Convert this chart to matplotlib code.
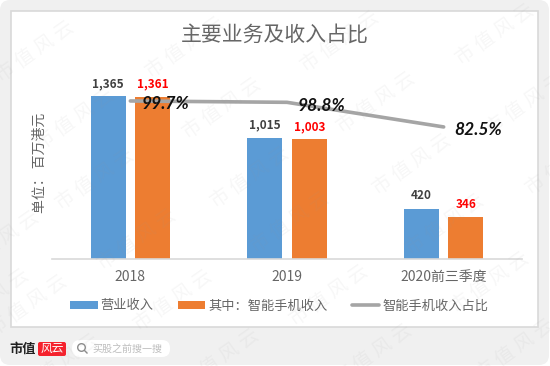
import numpy as np
import matplotlib
matplotlib.use('Agg')
import matplotlib.pyplot as plt
from matplotlib.patches import FancyBboxPatch, Rectangle, Circle
from matplotlib.lines import Line2D

plt.rcParams['font.family'] = ['Noto Sans CJK SC', 'DejaVu Sans']

# data
categories = ['2018', '2019', '2020前三季度']
revenue = [1365, 1015, 420]
phone_revenue = [1361, 1003, 346]
phone_share = [99.7, 98.8, 82.5]
revenue_labels = ['1,365', '1,015', '420']
phone_labels = ['1,361', '1,003', '346']
share_labels = ['99.7%', '98.8%', '82.5%']

# watermark centres, read in image pixels
mark_x = [35, 185, 340, 495, 75, 222, 376, 525, 95, 250, 412, 565,
          0, 137, 290, 445, -10, 28, 173, 329, 490, 60, 220, 373, 515]
mark_y = [52, 48, 42, 35, 120, 109, 103, 105, 180, 178, 165, 165,
          242, 240, 223, 225, 300, 306, 301, 296, 283, 365, 360, 355, 350]

W, H = 550, 366
fig = plt.figure(figsize=(5.5, 3.66), dpi=100, facecolor='white')

# background in pixel coordinates
bg = fig.add_axes([0, 0, 1, 1], zorder=0)
bg.set_xlim(0, W)
bg.set_ylim(H, 0)
bg.axis('off')
bg.add_patch(FancyBboxPatch((0, 0), W - 1, H - 1, boxstyle='round,pad=0,rounding_size=10',
                            fc='#f0f0f0', ec='none'))
bg.add_patch(Rectangle((11, 11), 527, 316, fc='white', ec='#d9d9d9', lw=1.2, zorder=1))

# logo and search box at the bottom
bg.text(23, 349, '市值', fontsize=9.5, fontweight='bold', color='#222222',
        ha='center', va='center')
bg.add_patch(FancyBboxPatch((38, 342), 28, 14, boxstyle='round,pad=0,rounding_size=2',
                            fc='#f5222d', ec='none'))
bg.text(52, 348.5, '风云', fontsize=8.5, color='white', ha='center', va='center')
bg.add_patch(FancyBboxPatch((72, 340), 98, 17, boxstyle='round,pad=0,rounding_size=8',
                            fc='white', ec='none'))
bg.add_patch(Circle((81.5, 347.5), 3.8, fc='none', ec='#8c8c8c', lw=1))
bg.plot([84.5, 87], [350.5, 353], color='#8c8c8c', lw=1)
bg.text(92, 348.5, '买股之前搜一搜', fontsize=7.2, color='#bdbdbd', va='center')

# main chart
ax = fig.add_axes([52 / W, 1 - 258.5 / H, 470 / W, 188.5 / H], zorder=2)
ax.patch.set_alpha(0)
x = np.arange(len(categories))
off = 0.142
bw = 0.223
ax.bar(x - off, revenue, bw, color='#5b9bd5', label='营业收入', zorder=2)
ax.bar(x + off, phone_revenue, bw, color='#ed7d31', label='其中：智能手机收入', zorder=2)
ax.set_xlim(-0.5, 2.5)
ax.set_ylim(0, 1588)
ax.set_yticks([])
ax.set_xticks(x, categories, fontsize=10, color='#666666')
ax.tick_params(axis='x', length=0, pad=8)
for s in ['top', 'left', 'right']:
    ax.spines[s].set_visible(False)
ax.spines['bottom'].set_color('#d9d9d9')
ax.spines['bottom'].set_linewidth(1.2)

for i in range(len(categories)):
    ax.annotate(revenue_labels[i], (x[i] - off, revenue[i]), xytext=(0, 4.5), textcoords='offset points',
                ha='center', va='bottom', fontsize=8.5, fontweight='bold', color='#404040')
    ax.annotate(phone_labels[i], (x[i] + off, phone_revenue[i]), xytext=(0, 4.5), textcoords='offset points',
                ha='center', va='bottom', fontsize=8.5, fontweight='bold', color='#ff0000')

# share line on its own axis
ax2 = ax.twinx()
ax2.set_zorder(3)
ax2.patch.set_alpha(0)
ax2.set_ylim(-4.6, 120.2)
ax2.set_yticks([])
for s in ax2.spines.values():
    s.set_visible(False)
ax2.plot(x, phone_share, color='#a5a5a5', lw=2.6, solid_capstyle='round', solid_joinstyle='round')
for i in range(len(categories)):
    ax2.annotate(share_labels[i], (x[i], phone_share[i]), xytext=(25, -2.5), textcoords='offset points',
                 ha='center', va='center', fontsize=12.5, fontweight='bold', style='italic',
                 family=['Lato'], color='#111111')

# title, axis note, legend
fig.text(275 / W, 1 - 35 / H, '主要业务及收入占比', fontsize=15, color='#666666', ha='center', va='center')
fig.text(40 / W, 1 - 163 / H, '单位： 百万港元', fontsize=10, color='#666666', rotation=90,
         ha='center', va='center')

handles = [Rectangle((0, 0), 1, 1, fc='#5b9bd5'), Rectangle((0, 0), 1, 1, fc='#ed7d31'),
           Line2D([0], [0], color='#a5a5a5', lw=2.6, solid_capstyle='round')]
labels = ['营业收入', '其中：智能手机收入', '智能手机收入占比']
fig.legend(handles, labels, loc='center', bbox_to_anchor=(279 / W, 1 - 306 / H), ncol=3, frameon=False,
           fontsize=9.5, labelcolor='#666666', handlelength=2.1, handleheight=0.6, handletextpad=0.2,
           columnspacing=1.85)

# watermark on top of everything
top = fig.add_axes([0, 0, 1, 1], zorder=5)
top.set_xlim(0, W)
top.set_ylim(H, 0)
top.axis('off')
for mx, my in zip(mark_x, mark_y):
    top.text(mx, my, '市 值 风 云', fontsize=14, color='#9a9a9a', alpha=0.08, rotation=35,
             ha='center', va='center', rotation_mode='anchor', clip_on=True)

fig.savefig('out.png', dpi=100)
